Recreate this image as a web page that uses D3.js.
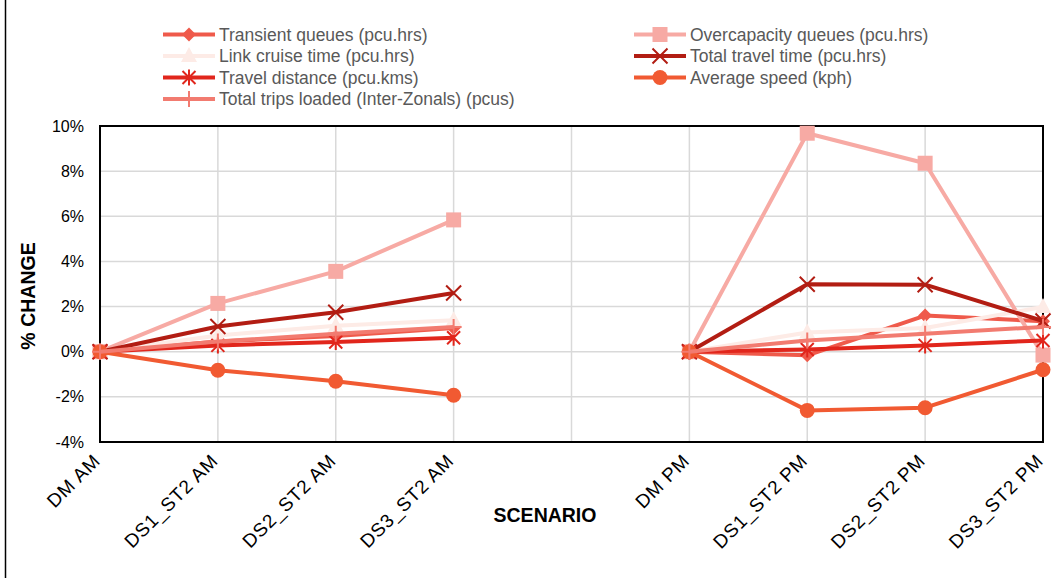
<!DOCTYPE html>
<html lang="en">
<head>
<meta charset="UTF-8">
<title>% Change by scenario</title>
<script src="https://d3js.org/d3.v7.min.js"></script>
<style>
    body { margin: 0; background: #fff; font-family: "Liberation Sans", Arial, sans-serif; }
    .grid line { stroke: #d9d9d9; stroke-width: 1.5; }
    .tick text { fill: #000; }
</style>
</head>
<body>
<svg width="1061" height="578"></svg>
<script>
// categories (blank gap between AM and PM groups)
const scenarios = ["DM AM", "DS1_ST2 AM", "DS2_ST2 AM", "DS3_ST2 AM", "", "DM PM", "DS1_ST2 PM", "DS2_ST2 PM", "DS3_ST2 PM"];
const yTicks = [-4, -2, 0, 2, 4, 6, 8, 10];

// values in % change, AM group then PM group
const transientQueues   = [[0, 0.45, 0.7, 1.05], [0, -0.16, 1.6, 1.35]];
const overcapQueues     = [[0, 2.14, 3.56, 5.84], [0, 9.68, 8.35, -0.15]];
const linkCruise        = [[0, 0.72, 1.15, 1.39], [0, 0.85, 1.05, 1.98]];
const totalTravelTime   = [[0, 1.12, 1.75, 2.6], [0, 2.99, 2.97, 1.36]];
const travelDistance    = [[0, 0.28, 0.43, 0.62], [0, 0.1, 0.28, 0.5]];
const averageSpeed      = [[0, -0.82, -1.31, -1.93], [0, -2.6, -2.48, -0.8]];
const totalTrips        = [[0, 0.45, 0.8, 1.1], [0, 0.5, 0.8, 1.1]];

const series = [
    { name: "Transient queues (pcu.hrs)", vals: transientQueues, color: "#ef5a4b", marker: "diamond" },
    { name: "Overcapacity queues (pcu.hrs)", vals: overcapQueues, color: "#f7aaa4", marker: "square" },
    { name: "Link cruise time (pcu.hrs)", vals: linkCruise, color: "#fdebe6", marker: "triangle" },
    { name: "Total travel time (pcu.hrs)", vals: totalTravelTime, color: "#b21d13", marker: "x" },
    { name: "Travel distance (pcu.kms)", vals: travelDistance, color: "#e1261c", marker: "star" },
    { name: "Average speed (kph)", vals: averageSpeed, color: "#f15a32", marker: "circle" },
    { name: "Total trips loaded (Inter-Zonals) (pcus)", vals: totalTrips, color: "#f27b70", marker: "plus" }
];

const svg = d3.select("svg");
const font = "Liberation Sans, Arial, sans-serif";
const plotL = 100, plotR = 1043, plotT = 126, plotB = 442;

const x = d3.scalePoint().domain(d3.range(scenarios.length)).range([plotL, plotR]);
const y = d3.scaleLinear().domain([-4, 10]).range([plotB, plotT]);

// outer frame (left edge visible)
svg.append("line").attr("x1", 5.5).attr("x2", 5.5).attr("y1", 0).attr("y2", 578)
    .attr("stroke", "#000").attr("stroke-width", 1.5);

// gridlines
const grid = svg.append("g").attr("class", "grid");
grid.selectAll("line.h").data(yTicks).join("line")
    .attr("class", "h")
    .attr("x1", plotL).attr("x2", plotR)
    .attr("y1", d => y(d)).attr("y2", d => y(d));
grid.selectAll("line.v").data(d3.range(1, scenarios.length - 1)).join("line")
    .attr("class", "v")
    .attr("x1", d => x(d)).attr("x2", d => x(d))
    .attr("y1", plotT).attr("y2", plotB);

// y axis
const yAxis = svg.append("g").attr("transform", `translate(${plotL - 14},0)`)
    .call(d3.axisLeft(y).tickValues(yTicks).tickSize(0).tickPadding(2).tickFormat(d => d + "%"));
yAxis.select(".domain").remove();
yAxis.selectAll("text").attr("font-family", font).attr("font-size", 16);

// x axis labels
const xAxis = svg.append("g").attr("transform", `translate(0,${plotB})`)
    .call(d3.axisBottom(x).tickSize(0).tickFormat(i => scenarios[i]));
xAxis.select(".domain").remove();
xAxis.selectAll("text")
    .attr("font-family", font).attr("font-size", 19).attr("letter-spacing", 0.8)
    .attr("text-anchor", "end")
    .attr("dy", 0).attr("y", 0)
    .attr("transform", "translate(1,20) rotate(-45)");

// plot border
svg.append("rect").attr("x", plotL).attr("y", plotT)
    .attr("width", plotR - plotL).attr("height", plotB - plotT)
    .attr("fill", "none").attr("stroke", "#000").attr("stroke-width", 2);

// axis titles
svg.append("text").attr("transform", "translate(35,296) rotate(-90)")
    .attr("text-anchor", "middle").attr("font-size", 19.5).attr("font-weight", "bold")
    .text("% CHANGE");
svg.append("text").attr("x", 545).attr("y", 522)
    .attr("text-anchor", "middle").attr("font-size", 19.5).attr("font-weight", "bold")
    .text("SCENARIO");

function drawMarker(g, type, color, cx, cy) {
    const m = g.append("g").attr("transform", `translate(${cx},${cy})`);
    if (type === "diamond") {
        m.append("path").attr("d", "M0,-7L7,0L0,7L-7,0Z").attr("fill", color);
    } else if (type === "square") {
        m.append("rect").attr("x", -7.5).attr("y", -7.5).attr("width", 15).attr("height", 15).attr("fill", color);
    } else if (type === "triangle") {
        m.append("path").attr("d", "M0,-9L8,6L-8,6Z").attr("fill", color);
    } else if (type === "circle") {
        m.append("circle").attr("r", 7.5).attr("fill", color);
    } else if (type === "x") {
        m.append("path").attr("d", "M-7.5,-7.5L7.5,7.5M-7.5,7.5L7.5,-7.5").attr("stroke", color).attr("stroke-width", 2);
    } else if (type === "star") {
        m.append("path").attr("d", "M-6.5,-6.5L6.5,6.5M-6.5,6.5L6.5,-6.5M0,-8L0,8").attr("stroke", color).attr("stroke-width", 2);
    } else if (type === "plus") {
        m.append("path").attr("d", "M-8,0L8,0M0,-8L0,8").attr("stroke", color).attr("stroke-width", 2);
    }
}

const line = d3.line().x(d => x(d[0])).y(d => y(d[1]));

series.forEach(s => {
    const g = svg.append("g");
    s.vals.forEach((vals, k) => {
        const pts = vals.map((v, i) => [k === 0 ? i : i + 5, v]);
        g.append("path").datum(pts).attr("d", line)
            .attr("fill", "none").attr("stroke", s.color).attr("stroke-width", 4)
            .attr("stroke-linejoin", "round");
        pts.forEach(p => drawMarker(g, s.marker, s.color, x(p[0]), y(p[1])));
    });
});

// legend: two columns, row-major order
const legend = svg.append("g");
series.forEach((s, i) => {
    const col = i % 2, row = Math.floor(i / 2);
    const lx = col === 0 ? 163 : 634;
    const ly = 34.5 + row * 21.5;
    const g = legend.append("g");
    g.append("line").attr("x1", lx).attr("x2", lx + 52).attr("y1", ly).attr("y2", ly)
        .attr("stroke", s.color).attr("stroke-width", 4);
    drawMarker(g, s.marker, s.color, lx + 26, ly);
    g.append("text").attr("x", lx + 56).attr("y", ly + 6)
        .attr("font-size", 17.5).attr("fill", "#595959").text(s.name);
});
</script>
</body>
</html>
